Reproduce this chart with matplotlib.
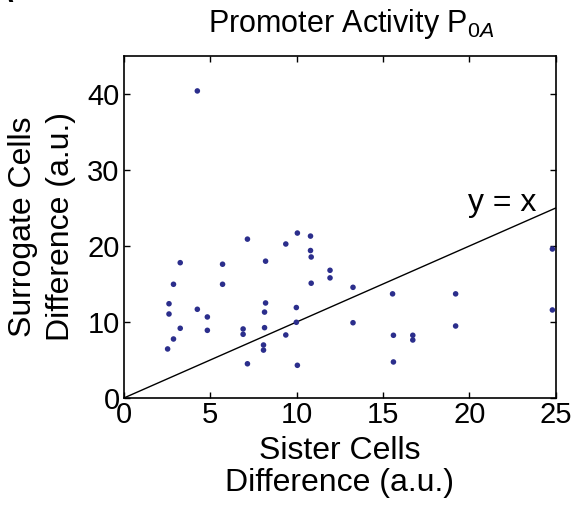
import numpy as np
import matplotlib
matplotlib.use('Agg')
import matplotlib.pyplot as plt

matplotlib.rcParams['font.family'] = 'Liberation Sans'
matplotlib.rcParams['mathtext.fontset'] = 'custom'
matplotlib.rcParams['mathtext.rm'] = 'Liberation Sans'
matplotlib.rcParams['mathtext.it'] = 'Liberation Sans:italic'

# data
sister = [4.25, 3.26, 2.87, 2.61, 2.61, 3.26, 2.87, 2.53, 4.25, 4.83,
          4.83, 5.71, 5.71, 7.15, 6.90, 6.90, 7.15, 8.20, 8.20, 8.14,
          8.14, 8.08, 8.08, 9.37, 9.37, 10.04, 9.98, 9.98, 10.04, 10.80,
          10.80, 10.84, 10.84, 11.93, 11.93, 13.26, 13.26, 15.55, 15.60, 15.60,
          16.72, 16.72, 19.20, 19.20, 24.80, 24.80]
surrogate = [40.4, 17.8, 14.96, 12.4, 11.05, 9.17, 7.76, 6.45, 11.67, 10.66,
             8.9, 17.6, 14.96, 20.9, 9.08, 8.38, 4.5, 18.0, 12.5, 11.3,
             9.25, 6.97, 6.3, 20.26, 8.29, 21.7, 11.9, 9.96, 4.3, 21.3,
             19.4, 18.55, 15.1, 16.8, 15.8, 14.56, 9.9, 13.7, 8.25, 4.74,
             8.25, 7.63, 13.7, 9.47, 19.6, 11.58]
identity = [0, 25]
xticks = [0, 5, 10, 15, 20, 25]
yticks = [0, 10, 20, 30, 40]

fs_tick = 21
fs_lab = 23

fig = plt.figure(figsize=(5.79, 5.12), dpi=100)
ax = fig.add_axes([0.214, 0.2227, 0.746, 0.668])

ax.plot(identity, identity, color='k', lw=1.0)
ax.scatter(sister, surrogate, s=16, color='#2b2e8c', edgecolors='none',
           zorder=3, clip_on=False)
ax.text(21.9, 25.7, 'y = x', fontsize=fs_lab, ha='center', va='center')

ax.set_xlim(0, 25)
ax.set_ylim(0, 45)
ax.set_xticks(xticks)
ax.set_yticks(yticks)
ax.tick_params(direction='in', length=4, width=1, top=True, right=True,
               labelsize=fs_tick, pad=3, colors='k')
ax.tick_params(axis='x', pad=2)
for s in ax.spines.values():
    s.set_linewidth(1.2)

ax.set_xlabel('Sister Cells\nDifference (a.u.)', fontsize=fs_lab, linespacing=1.1)
ax.xaxis.set_label_coords(0.5, -0.11, transform=ax.transAxes)
ax.xaxis.label.set_va('top')
ax.set_ylabel('Surrogate Cells\nDifference (a.u.)', fontsize=fs_lab, linespacing=1.35)
ax.yaxis.set_label_coords(-0.111, 0.5)

fig.text(0.606, 0.9375, 'Promoter Activity P$_{\\mathit{0A}}$', fontsize=22,
         ha='center', va='baseline')
fig.text(-0.012, 0.985, 'A', fontsize=20, fontweight='bold', va='bottom')

fig.savefig('out.png', dpi=100)
